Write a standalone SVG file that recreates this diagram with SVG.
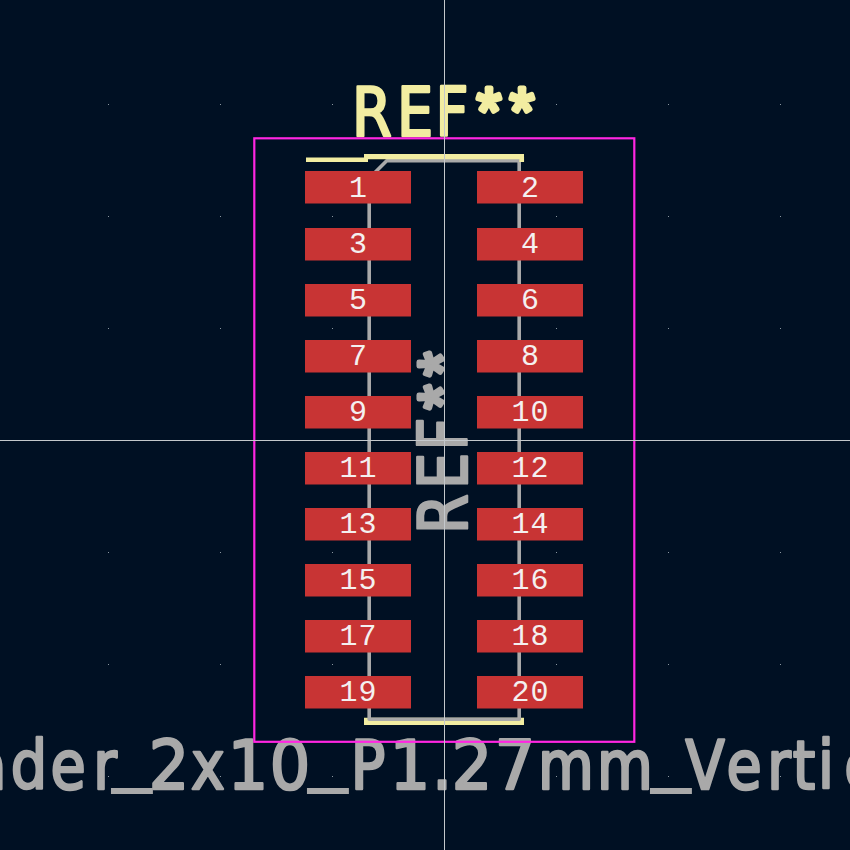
<svg xmlns="http://www.w3.org/2000/svg" width="850" height="850" viewBox="0 0 850 850">
<style>
.pad{fill:#c83434}
.num{font-family:"Liberation Mono",monospace;font-size:30px;fill:#f4f0f0;text-anchor:middle}
.big{font-family:"DejaVu Sans",sans-serif;font-size:67px;text-anchor:middle;stroke-width:2.500;stroke-linejoin:round}
.star{font-family:"Liberation Sans",sans-serif;font-size:66px;stroke-width:5}
.cond{font-stretch:condensed}
.us{font-size:85px;stroke-width:0}
.fab{fill:none;stroke:#a9a9a9;stroke-width:3.600;stroke-linejoin:round}
.silk{fill:none;stroke:#f2eda1;stroke-linecap:butt}
.g{fill:#a9a9a9;stroke:#a9a9a9}
.y{fill:#f2eda1;stroke:#f2eda1}
.dot{fill:#8a96a0}
</style>
<defs><rect id="padshape" width="106" height="32.500" class="pad"/></defs>
<rect width="850" height="850" fill="#001023"/>
<g id="grid" class="dot">
<path d="M108 104h1v1h-1zM220 104h1v1h-1zM332 104h1v1h-1zM444 104h1v1h-1zM556 104h1v1h-1zM668 104h1v1h-1zM780 104h1v1h-1zM108 216h1v1h-1zM220 216h1v1h-1zM332 216h1v1h-1zM444 216h1v1h-1zM556 216h1v1h-1zM668 216h1v1h-1zM780 216h1v1h-1zM108 328h1v1h-1zM220 328h1v1h-1zM332 328h1v1h-1zM444 328h1v1h-1zM556 328h1v1h-1zM668 328h1v1h-1zM780 328h1v1h-1zM108 440h1v1h-1zM220 440h1v1h-1zM332 440h1v1h-1zM444 440h1v1h-1zM556 440h1v1h-1zM668 440h1v1h-1zM780 440h1v1h-1zM108 552h1v1h-1zM220 552h1v1h-1zM332 552h1v1h-1zM444 552h1v1h-1zM556 552h1v1h-1zM668 552h1v1h-1zM780 552h1v1h-1zM108 664h1v1h-1zM220 664h1v1h-1zM332 664h1v1h-1zM444 664h1v1h-1zM556 664h1v1h-1zM668 664h1v1h-1zM780 664h1v1h-1zM108 776h1v1h-1zM220 776h1v1h-1zM332 776h1v1h-1zM444 776h1v1h-1zM556 776h1v1h-1zM668 776h1v1h-1zM780 776h1v1h-1z"/>
</g>
<text id="value" class="big g" transform="scale(.95,1)" y="789"><tspan class="cond" x="-11.600 30.500 71.600 110.500" y="789">ader</tspan><tspan class="us" x="138.900" y="774">_</tspan><tspan x="177.900" y="789">2</tspan><tspan class="cond" x="218.900" y="789">x</tspan><tspan x="261.100 305.300" y="789">10</tspan><tspan class="us" x="345.300" y="774">_</tspan><tspan class="cond" x="387.400" y="789">P</tspan><tspan x="431.600 465.300 496.800 542.100" y="789">1.27</tspan><tspan class="cond" x="595.800 657.900" y="789">mm</tspan><tspan class="us" x="706.300" y="774">_</tspan><tspan class="cond" x="742.100 783.200 820 846.300 869.500 905.300" y="789">Vertic</tspan></text>
<path id="silk-bottom" class="silk" stroke-width="7.300" d="M364 721.300H524"/>
<path id="fab-outline" class="fab" d="M386.700 160.700H519.200V719.200H369.200V178.200Z"/>
<g id="silk-top" class="silk">
<path stroke-width="4.600" d="M306 159.700H368"/>
<path stroke-width="5.300" d="M364 156.700H524"/>
<path stroke-width="4.700" d="M521.700 156.700V162"/>
</g>
<text id="reference" class="big y cond" transform="translate(356,136) scale(.95,1)"><tspan x="16.800 62.100 101">REF</tspan><tspan class="star" x="140 174.700" y="-2.500">**</tspan></text>
<text id="user-ref" class="big g cond" transform="translate(467,530) rotate(-90) scale(.95,1)"><tspan x="16.800 62.100 101">REF</tspan><tspan class="star" x="140 174.700" y="-2.500">**</tspan></text>
<rect id="courtyard" x="254.300" y="138.300" width="380" height="603.500" fill="none" stroke="#ff26e2" stroke-width="2.200"/>
<g id="pad1"><use href="#padshape" x="305" y="171"/><text class="num" x="358" y="197">1</text></g>
<g id="pad2"><use href="#padshape" x="477" y="171"/><text class="num" x="530" y="197">2</text></g>
<g id="pad3"><use href="#padshape" x="305" y="228"/><text class="num" x="358" y="253">3</text></g>
<g id="pad4"><use href="#padshape" x="477" y="228"/><text class="num" x="530" y="253">4</text></g>
<g id="pad5"><use href="#padshape" x="305" y="284"/><text class="num" x="358" y="309">5</text></g>
<g id="pad6"><use href="#padshape" x="477" y="284"/><text class="num" x="530" y="309">6</text></g>
<g id="pad7"><use href="#padshape" x="305" y="340"/><text class="num" x="358" y="365">7</text></g>
<g id="pad8"><use href="#padshape" x="477" y="340"/><text class="num" x="530" y="365">8</text></g>
<g id="pad9"><use href="#padshape" x="305" y="396"/><text class="num" x="358" y="421">9</text></g>
<g id="pad10"><use href="#padshape" x="477" y="396"/><text class="num" x="520.500 539.500" y="421">10</text></g>
<g id="pad11"><use href="#padshape" x="305" y="452"/><text class="num" x="348.500 367.500" y="477">11</text></g>
<g id="pad12"><use href="#padshape" x="477" y="452"/><text class="num" x="520.500 539.500" y="477">12</text></g>
<g id="pad13"><use href="#padshape" x="305" y="508"/><text class="num" x="348.500 367.500" y="533">13</text></g>
<g id="pad14"><use href="#padshape" x="477" y="508"/><text class="num" x="520.500 539.500" y="533">14</text></g>
<g id="pad15"><use href="#padshape" x="305" y="564"/><text class="num" x="348.500 367.500" y="589">15</text></g>
<g id="pad16"><use href="#padshape" x="477" y="564"/><text class="num" x="520.500 539.500" y="589">16</text></g>
<g id="pad17"><use href="#padshape" x="305" y="620"/><text class="num" x="348.500 367.500" y="645">17</text></g>
<g id="pad18"><use href="#padshape" x="477" y="620"/><text class="num" x="520.500 539.500" y="645">18</text></g>
<g id="pad19"><use href="#padshape" x="305" y="676"/><text class="num" x="348.500 367.500" y="701">19</text></g>
<g id="pad20"><use href="#padshape" x="477" y="676"/><text class="num" x="520.500 539.500" y="701">20</text></g>
<path id="crosshair" stroke="#c4c8cc" stroke-width="1" d="M444.500 0V850M0 440.500H850"/>
</svg>
